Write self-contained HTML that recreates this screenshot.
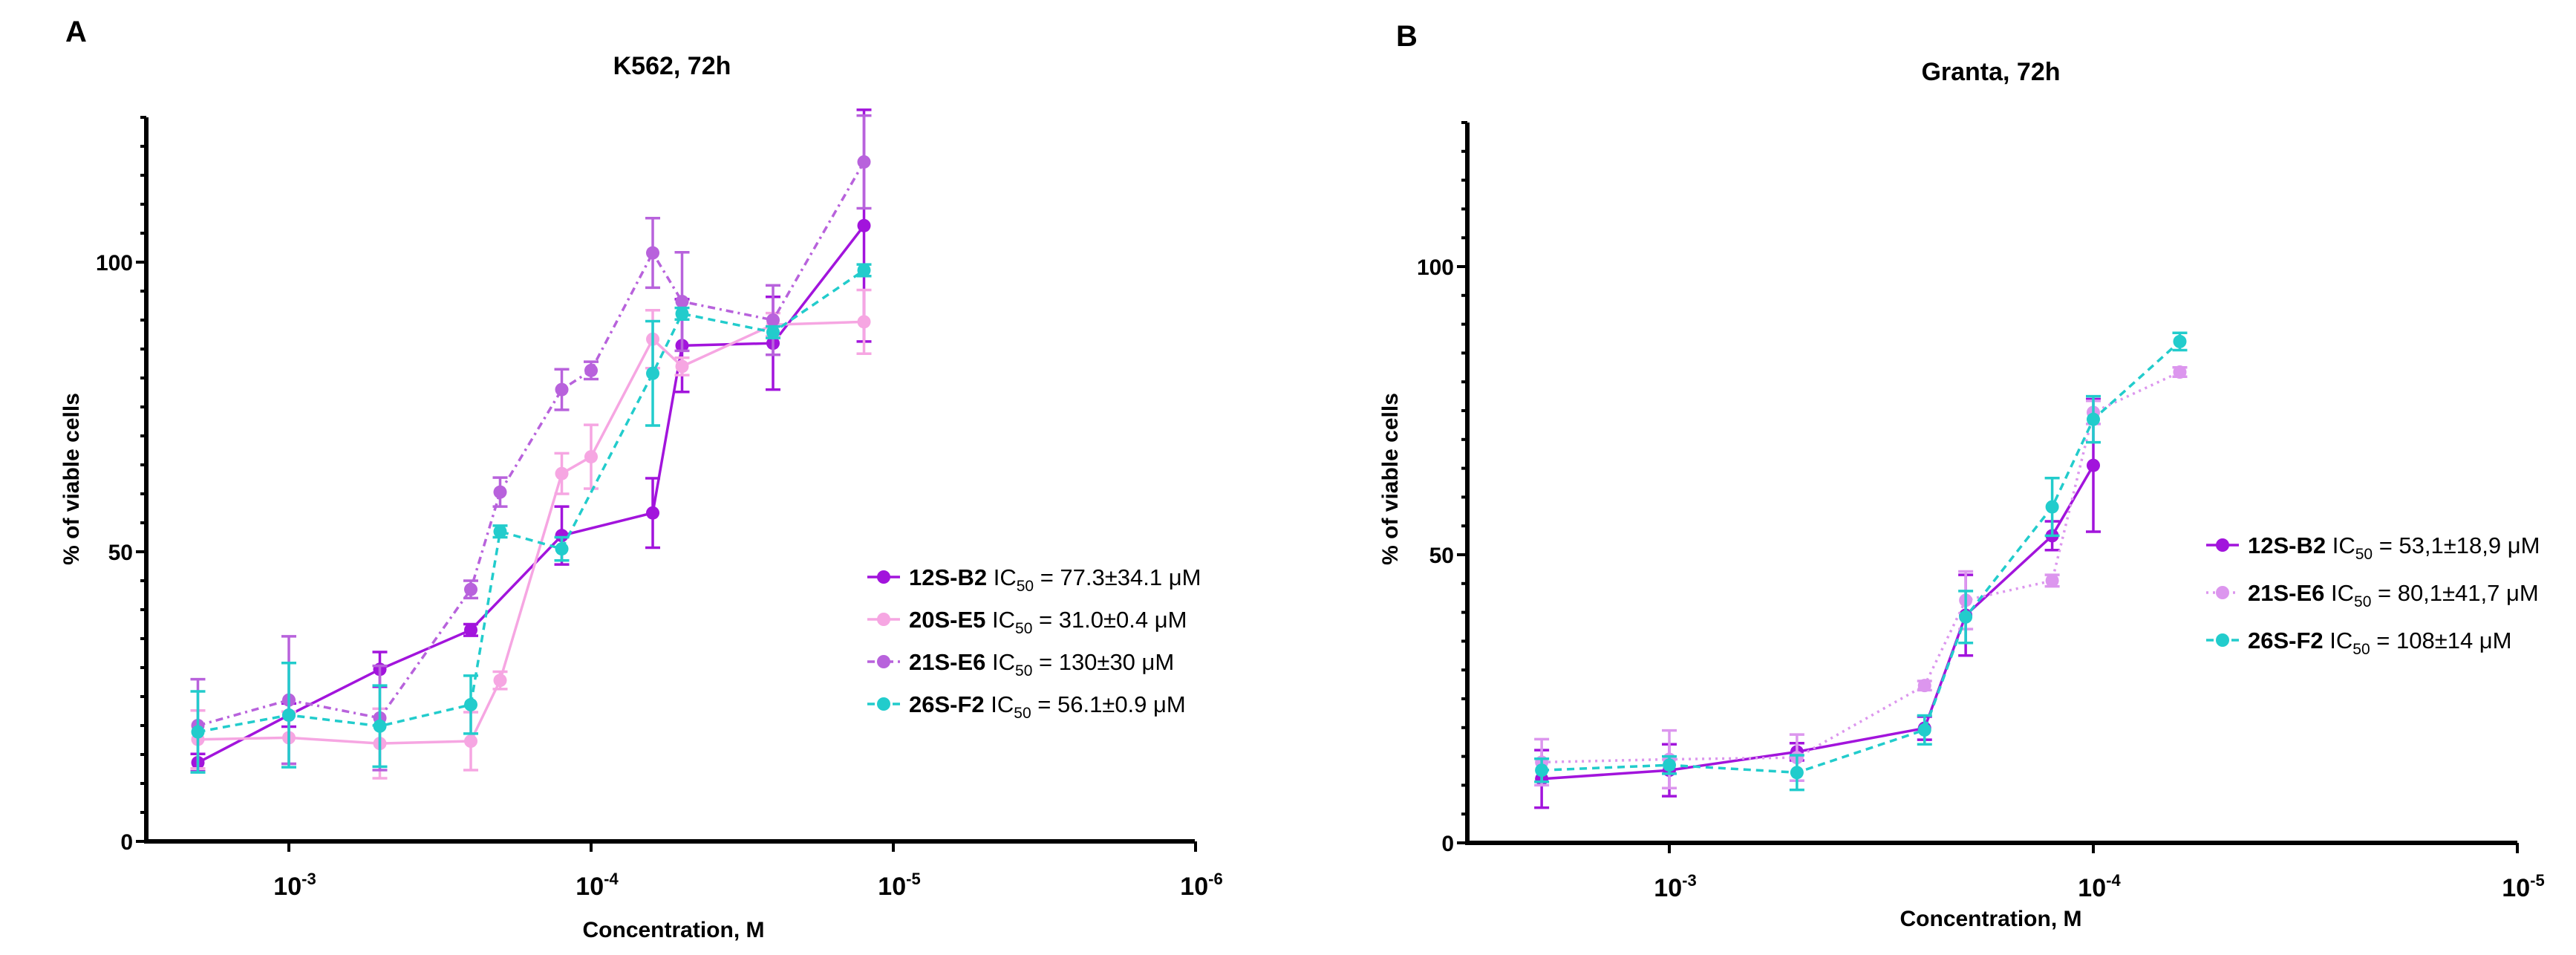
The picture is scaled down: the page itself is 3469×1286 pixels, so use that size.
<!DOCTYPE html>
<html><head><meta charset="utf-8">
<style>
body{margin:0;background:#fff;}
svg{display:block;font-family:"Liberation Sans",Arial,sans-serif;}
</style></head>
<body>
<svg id="fig" width="3469" height="1286" viewBox="0 0 3469 1286"></svg>
<script>
// ---- Panel A data (K562) ----
const aLogConc = [-2.699,-3,-3.301,-3.602,-3.699,-3.903,-4,-4.204,-4.301,-4.602,-4.903];
const aB2  = [13.6,21.8,29.7,36.5,null,52.8,null,56.7,85.6,86,106.3];
const aB2e = [1.5,2,3,1,null,5,null,6,8,8,20];
const aE5  = [17.6,17.9,16.9,17.3,27.8,63.5,66.4,86.7,82,89.2,89.7];
const aE5e = [5,4.5,6,5,1.5,3.5,5.5,5,1.5,2,5.5];
const aE6  = [20,24.4,21.3,43.5,60.3,78,81.3,101.6,93.2,90,117.3];
const aE6e = [8,11,9,1.5,2.5,3.5,1.5,6,8.5,6,8];
const aF2  = [18.9,21.8,19.9,23.6,53.5,50.5,null,80.8,91.1,87.9,98.6];
const aF2e = [7,9,7,5,1,2,null,9,1,1,1];
// ---- Panel B data (Granta) ----
const bLogConc = [-2.699,-3,-3.301,-3.602,-3.699,-3.903,-4,-4.204];
const bB2  = [11.1,12.6,15.8,19.9,39.5,53.3,65.5,null];
const bB2e = [5,4.5,1.5,2,7,2.5,11.5,null];
const bE6  = [14,14.5,14.8,27.3,42.1,45.5,74.7,81.7];
const bE6e = [4,5,4,0.8,5,1,2,0.8];
const bF2  = [12.6,13.5,12.2,19.6,39.2,58.3,73.5,87];
const bF2e = [2,1.5,3,2.5,4.5,5,4,1.5];
// ticks
const yTickLabels = [0,50,100];
const aXTickExp = [-3,-4,-5,-6];
const bXTickExp = [-3,-4,-5];
const aLegendNames = ["12S-B2","20S-E5","21S-E6","26S-F2"];
const aLegendIC = [" = 77.3±34.1 μM"," = 31.0±0.4 μM"," = 130±30 μM"," = 56.1±0.9 μM"];
const bLegendNames = ["12S-B2","21S-E6","26S-F2"];
const bLegendIC = [" = 53,1±18,9 μM"," = 80,1±41,7 μM"," = 108±14 μM"];

const NS="http://www.w3.org/2000/svg";
const svg=document.getElementById('fig');
function mk(tag,attrs,parent){const e=document.createElementNS(NS,tag);for(const k in attrs)e.setAttribute(k,attrs[k]);(parent||svg).appendChild(e);return e;}

function panel(cfg){
  const g=mk('g',{});
  
  
  const x=lc=>cfg.x0+(-3-lc)*cfg.dec;
  const y=v=>cfg.y0-v*cfg.py;
  const L=mk('text',{x:cfg.letterX,y:cfg.letterY,'font-size':40,'font-weight':'bold'},g);L.textContent=cfg.letter;
  
  const T=mk('text',{x:cfg.titleX,y:cfg.titleY,'font-size':34,'font-weight':'bold','text-anchor':'middle'},g);T.textContent=cfg.title;
  
  const ya=mk('line',{x1:cfg.axX,y1:y(125),x2:cfg.axX,y2:cfg.y0+3,stroke:'#000','stroke-width':6},g);
  
  const xa=mk('line',{x1:cfg.axX-3,y1:cfg.y0,x2:cfg.xEnd,y2:cfg.y0,stroke:'#000','stroke-width':6},g);
  
  for(let v=0;v<=125;v+=5){
    const major=(v%50===0);
    mk('line',{x1:cfg.axX-(major?14:8),y1:y(v),x2:cfg.axX,y2:y(v),stroke:'#000','stroke-width':4},g);
  }
  yTickLabels.forEach(v=>{
    const t=mk('text',{x:cfg.axX-18,y:y(v)+11,'font-size':30,'font-weight':'bold','text-anchor':'end'},g);
    t.textContent=v;
    
  });
  cfg.xticks.forEach(e=>{
    const xx=x(e);
    mk('line',{x1:xx,y1:cfg.y0,x2:xx,y2:cfg.y0+14,stroke:'#000','stroke-width':4},g);
    const t=mk('text',{x:xx+8,y:cfg.y0+72,'font-size':34,'font-weight':'bold','text-anchor':'middle'},g);
    
    t.appendChild(document.createTextNode('10'));
    const s=mk('tspan',{dy:-14,'font-size':22},t);s.textContent=String(e);
  });
  const yt=mk('text',{transform:`translate(${cfg.yTitleX},${cfg.yTitleY}) rotate(-90)`,'font-size':30,'font-weight':'bold','text-anchor':'middle'},g);
  yt.textContent='% of viable cells';
  
  const xt=mk('text',{x:cfg.xTitleX,y:cfg.xTitleY,'font-size':30,'font-weight':'bold','text-anchor':'middle'},g);
  xt.textContent='Concentration, M';
  
  cfg.series.forEach(s=>{
    const sg=mk('g',{},g);
    
    let pts=[];
    s.vals.forEach((v,i)=>{if(v!==null)pts.push([x(cfg.conc[i]),y(v)]);});
    const p=mk('polyline',{points:pts.map(q=>q.join(',')).join(' '),fill:'none',stroke:s.color,'stroke-width':3.5,'stroke-dasharray':s.dash||'none'},sg);
    
    s.vals.forEach((v,i)=>{
      if(v===null)return;
      const xx=x(cfg.conc[i]),e=s.err[i]||0;
      const eb=mk('g',{stroke:s.color,'stroke-width':3.5},sg);
      
      mk('line',{x1:xx,y1:y(v-e),x2:xx,y2:y(v+e)},eb);
      mk('line',{x1:xx-10,y1:y(v-e),x2:xx+10,y2:y(v-e)},eb);
      mk('line',{x1:xx-10,y1:y(v+e),x2:xx+10,y2:y(v+e)},eb);
      const c=mk('circle',{cx:xx,cy:y(v),r:9,fill:s.color},sg);
      
    });
  });
  cfg.legNames.forEach((n,i)=>{
    const s=cfg.series[i];const ly=cfg.legY+i*cfg.legDy;
    const lg=mk('g',{},g);
    
    mk('line',{x1:cfg.legX-22,y1:ly,x2:cfg.legX+22,y2:ly,stroke:s.color,'stroke-width':3.5,'stroke-dasharray':s.dash||'none'},lg);
    mk('circle',{cx:cfg.legX,cy:ly,r:9,fill:s.color},lg);
    const t=mk('text',{x:cfg.legX+34,y:ly+11,'font-size':31},lg);
    const b=mk('tspan',{'font-weight':'bold'},t);b.textContent=n+' ';
    const ic=mk('tspan',{},t);ic.textContent='IC';
    const sub=mk('tspan',{dy:8,'font-size':21},t);sub.textContent='50';
    const rest=mk('tspan',{dy:-8},t);rest.textContent=cfg.legIC[i];
  });
}

panel({name:'panel-a-k562',letter:'A',letterX:88,letterY:56,title:'K562, 72h',titleX:905,titleY:100,
  axX:197,x0:389,dec:407,xEnd:1609,y0:1133,py:7.8,conc:aLogConc,xticks:aXTickExp,
  yTitleX:106,yTitleY:645,xTitleX:907,xTitleY:1262,
  series:[
    {key:'12s-b2',vals:aB2,err:aB2e,color:'#a214dc'},
    {key:'20s-e5',vals:aE5,err:aE5e,color:'#f6a6e2'},
    {key:'21s-e6',vals:aE6,err:aE6e,color:'#b862dc',dash:'10,6,3,6'},
    {key:'26s-f2',vals:aF2,err:aF2e,color:'#22cccc',dash:'10,7'}],
  legNames:aLegendNames,legIC:aLegendIC,legX:1190,legY:777,legDy:57});

panel({name:'panel-b-granta',letter:'B',letterX:1880,letterY:62,title:'Granta, 72h',titleX:2681,titleY:108,
  axX:1976,x0:2248,dec:571,xEnd:3390,y0:1135,py:7.76,conc:bLogConc,xticks:bXTickExp,
  yTitleX:1882,yTitleY:645,xTitleX:2681,xTitleY:1247,
  series:[
    {key:'12s-b2',vals:bB2,err:bB2e,color:'#a214dc'},
    {key:'21s-e6',vals:bE6,err:bE6e,color:'#dc96ee',dash:'3,6'},
    {key:'26s-f2',vals:bF2,err:bF2e,color:'#22cccc',dash:'10,7'}],
  legNames:bLegendNames,legIC:bLegendIC,legX:2993,legY:734,legDy:64});
</script>
</body></html>
